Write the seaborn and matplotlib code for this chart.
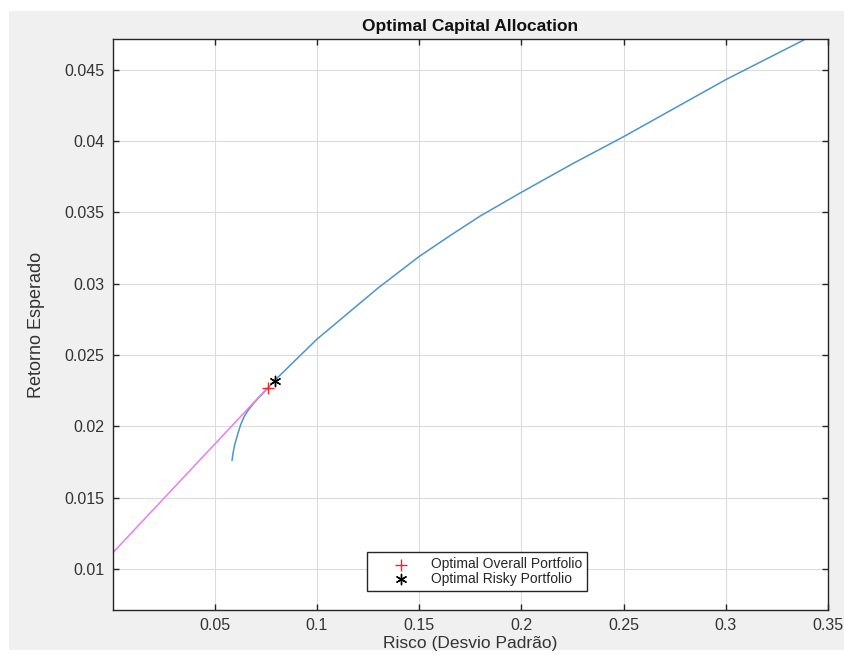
import matplotlib
matplotlib.use("Agg")
import matplotlib.pyplot as plt
import seaborn as sns
import pandas as pd
from matplotlib.patches import Rectangle

# Efficient frontier
frontier_risk = [0.0585, 0.0590, 0.0598, 0.0612, 0.0627, 0.0645, 0.0663, 0.0690, 0.0712,
                 0.0759, 0.0793, 0.0900, 0.1000, 0.1100, 0.1200, 0.1300, 0.1400, 0.1500,
                 0.1650, 0.1800, 0.2000, 0.2250, 0.2500, 0.2750, 0.3000, 0.3384]
frontier_ret = [0.0176, 0.0181, 0.0187, 0.0194, 0.0201, 0.0207, 0.0211, 0.0216, 0.02195,
                0.02265, 0.0232, 0.0247, 0.0261, 0.0273, 0.0285, 0.0297, 0.0308, 0.0319,
                0.03335, 0.03475, 0.0364, 0.0384, 0.0403, 0.0423, 0.0443, 0.0471]
# Capital allocation line
cal_risk = [0.0, 0.0759]
cal_ret = [0.0111, 0.0227]
# Portfolios
overall_pt = (0.0759, 0.0227)
risky_pt = (0.0793, 0.0232)
legend_labels = ["Optimal Overall Portfolio", "Optimal Risky Portfolio"]
xticks = [0.05, 0.1, 0.15, 0.2, 0.25, 0.3, 0.35]
xtick_labels = ["0.05", "0.1", "0.15", "0.2", "0.25", "0.3", "0.35"]
yticks = [0.01, 0.015, 0.02, 0.025, 0.03, 0.035, 0.04, 0.045]
ytick_labels = ["0.01", "0.015", "0.02", "0.025", "0.03", "0.035", "0.04", "0.045"]

sns.set_theme(style="whitegrid")
plt.rcParams['font.family'] = ['Liberation Sans', 'DejaVu Sans']

W, H = 845, 655
fig = plt.figure(figsize=(W / 100, H / 100), dpi=100, facecolor="white")
bg = Rectangle((9 / W, 5 / H), 1 - 9 / W, (H - 11 - 5) / H,
               transform=fig.transFigure, facecolor="#f0f0f0",
               edgecolor="none", zorder=-10)
fig.add_artist(bg)
ax = fig.add_axes([113 / W, (H - 610) / H, (828 - 113) / W, (610 - 39) / H])
ax.set_zorder(1)
ax.set_facecolor("white")

df_f = pd.DataFrame({"risk": frontier_risk, "ret": frontier_ret})
df_c = pd.DataFrame({"risk": cal_risk, "ret": cal_ret})
sns.lineplot(data=df_f, x="risk", y="ret", sort=False, ax=ax, color="#4d94cc", lw=1.1,
             legend=False)
sns.lineplot(data=df_c, x="risk", y="ret", sort=False, ax=ax, color="#ea7cf2", lw=1.1,
             legend=False)
ax.scatter([overall_pt[0]], [overall_pt[1]], marker="+", s=70, color="#ff2020",
           linewidths=1.0, label=legend_labels[0], zorder=5)
ax.scatter([risky_pt[0]], [risky_pt[1]], marker=(6, 2, 0), s=55, color="black",
           linewidths=1.0, label=legend_labels[1], zorder=5)

ax.set_xlim(0.0003, 0.35)
ax.set_ylim(0.00712, 0.04715)
ax.set_xticks(xticks)
ax.set_xticklabels(xtick_labels)
ax.set_yticks(yticks)
ax.set_yticklabels(ytick_labels)
ax.grid(True, color="#dcdcdc", lw=0.8)
for s in ax.spines.values():
    s.set_visible(True)
    s.set_color("#262626")
    s.set_linewidth(1.0)
ax.tick_params(direction="in", length=4, width=1, color="#262626",
               labelsize=11.5, labelcolor="#333333", pad=6,
               top=True, right=True, bottom=True, left=True,
               labeltop=False, labelright=False)

ax.set_title("Optimal Capital Allocation", fontsize=12.5, fontweight="bold",
             color="#111111", pad=6)
ax.set_xlabel("Risco (Desvio Padrão)", fontsize=12.5, color="#333333", labelpad=2)
ax.set_ylabel("Retorno Esperado", fontsize=13, color="#333333", labelpad=14)

leg = ax.legend(loc="center", bbox_to_anchor=(477 / W, (H - 571.5) / H),
                bbox_transform=fig.transFigure, fontsize=10, frameon=True,
                fancybox=False, edgecolor="#262626", framealpha=1,
                handletextpad=0.0, borderpad=0.35, labelspacing=0.05,
                handlelength=4.2, borderaxespad=0)
leg.get_frame().set_linewidth(1.0)

fig.savefig("out.png", dpi=100, facecolor="white")
